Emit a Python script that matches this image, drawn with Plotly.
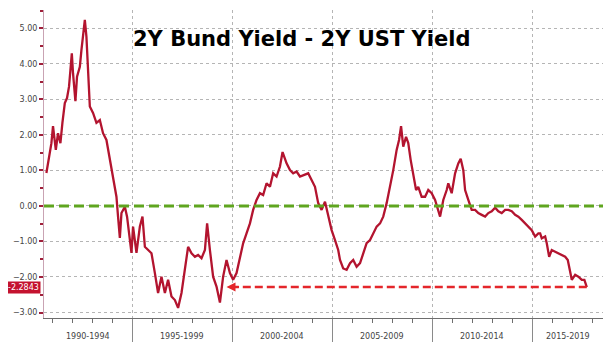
import plotly.graph_objects as go

# ---- data (decimal year, spread in %) ----
years = [
    1990.72, 1990.80, 1990.97, 1991.05, 1991.19, 1991.30, 1991.42, 1991.52, 1991.64, 1991.75,
    1991.85, 1991.92, 1991.99, 1992.05, 1992.17, 1992.25, 1992.39, 1992.47, 1992.55, 1992.64,
    1992.72, 1992.80, 1992.89, 1993.05, 1993.22, 1993.39, 1993.55, 1993.72, 1993.89, 1994.05,
    1994.22, 1994.30, 1994.39, 1994.47, 1994.64, 1994.75, 1994.89, 1994.97, 1995.05, 1995.22,
    1995.39, 1995.52, 1995.64, 1995.80, 1995.97, 1996.14, 1996.30, 1996.47, 1996.64, 1996.80,
    1996.97, 1997.14, 1997.30, 1997.47, 1997.64, 1997.80, 1997.97, 1998.14, 1998.30, 1998.47,
    1998.64, 1998.75, 1998.89, 1999.05, 1999.22, 1999.39, 1999.55, 1999.72, 1999.89, 2000.05,
    2000.22, 2000.39, 2000.55, 2000.72, 2000.89, 2001.05, 2001.22, 2001.39, 2001.55, 2001.72,
    2001.89, 2002.05, 2002.22, 2002.39, 2002.52, 2002.72, 2002.89, 2003.05, 2003.22, 2003.39,
    2003.55, 2003.80, 2003.97, 2004.14, 2004.30, 2004.47, 2004.64, 2004.80, 2004.97, 2005.14,
    2005.30, 2005.39, 2005.55, 2005.72, 2005.89, 2006.05, 2006.22, 2006.39, 2006.55, 2006.72,
    2006.89, 2007.05, 2007.22, 2007.39, 2007.55, 2007.72, 2007.89, 2008.05, 2008.22, 2008.34,
    2008.44, 2008.55, 2008.69, 2008.80, 2008.92, 2009.05, 2009.19, 2009.30, 2009.47, 2009.64,
    2009.80, 2009.97, 2010.14, 2010.39, 2010.55, 2010.72, 2010.80, 2010.97, 2011.14, 2011.30,
    2011.42, 2011.55, 2011.64, 2011.80, 2011.97, 2012.14, 2012.30, 2012.47, 2012.64, 2012.80,
    2012.97, 2013.14, 2013.30, 2013.47, 2013.64, 2013.80, 2013.97, 2014.14, 2014.30, 2014.47,
    2014.64, 2014.80, 2014.97, 2015.14, 2015.30, 2015.39, 2015.47, 2015.64, 2015.72, 2015.84,
    2015.97, 2016.14, 2016.30, 2016.47, 2016.64, 2016.77, 2016.89, 2016.97, 2017.14, 2017.30,
    2017.47, 2017.60, 2017.72,
]
spread = [
    0.93, 1.21, 1.77, 2.25, 1.58, 2.05, 1.77, 2.34, 2.90, 3.04,
    3.36, 3.83, 4.30, 3.74, 2.95, 3.64, 3.92, 4.39, 4.86, 5.24,
    4.77, 3.64, 2.80, 2.62, 2.34, 2.42, 2.05, 1.86, 1.30, 0.83,
    0.26, -0.30, -0.90, -0.20, -0.02, -0.30, -1.04, -1.32, -0.58, -1.32,
    -0.58, -0.30, -1.15, -1.24, -1.33, -1.89, -2.45, -1.99, -2.45, -2.08,
    -2.55, -2.65, -2.87, -2.45, -1.80, -1.15, -1.33, -1.43, -1.38, -1.47,
    -1.24, -0.49, -1.24, -1.99, -2.27, -2.72, -1.99, -1.52, -1.89, -2.08,
    -1.89, -1.43, -1.05, -0.77, -0.49, -0.11, 0.17, 0.36, 0.31, 0.64,
    0.54, 0.92, 0.83, 1.11, 1.52, 1.20, 1.01, 0.92, 0.97, 0.83,
    0.87, 0.92, 0.73, 0.54, 0.08, -0.11, 0.12, -0.30, -0.68, -0.96,
    -1.24, -1.52, -1.76, -1.80, -1.61, -1.52, -1.71, -1.61, -1.33, -1.05,
    -0.96, -0.77, -0.58, -0.49, -0.30, 0.08, 0.54, 1.01, 1.58, 1.86,
    2.25, 1.67, 1.95, 1.77, 1.30, 0.83, 0.45, 0.54, 0.26, 0.26,
    0.45, 0.36, 0.17, -0.30, 0.17, 0.45, 0.64, 0.36, 0.92, 1.20,
    1.33, 1.01, 0.45, 0.17, -0.11, -0.11, -0.20, -0.25, -0.30, -0.20,
    -0.15, -0.05, -0.15, -0.20, -0.11, -0.11, -0.15, -0.25, -0.30, -0.39,
    -0.49, -0.58, -0.68, -0.86, -0.77, -0.77, -0.91, -0.86, -1.05, -1.43,
    -1.24, -1.29, -1.33, -1.38, -1.43, -1.52, -1.90, -2.08, -1.94, -1.99,
    -2.08, -2.08, -2.2843,
]
last_value = -2.2843
arrow_to_year = 1999.72

period_starts = [1990, 1995, 2000, 2005, 2010, 2015]
period_labels = ["1990-1994", "1995-1999", "2000-2004", "2005-2009", "2010-2014", "2015-2019"]
y_ticks = [-3, -2, -1, 0, 1, 2, 3, 4, 5]

x_min, x_max = 1990.6, 2018.53
y_min, y_max = -3.155, 5.52

fig = go.Figure()
fig.add_trace(go.Scatter(x=years, y=spread, mode="lines",
                         line=dict(color="#b3142f", width=2.3), hoverinfo="skip"))

# zero line (green dashed)
fig.add_shape(type="line", xref="paper", x0=0, x1=1, yref="y", y0=0, y1=0,
              line=dict(color="#5fa51f", width=3, dash="10px,5px"))
# red dashed arrow from latest value back to the previous low
fig.add_shape(type="line", xref="x", x0=years[-1], x1=arrow_to_year + 0.15,
              yref="y", y0=last_value, y1=last_value,
              line=dict(color="#e4262b", width=2.5, dash="8px,4px"))
fig.add_annotation(x=arrow_to_year, y=last_value, ax=14, ay=0, axref="pixel", ayref="pixel",
                   showarrow=True, arrowhead=2, arrowsize=0.9, arrowwidth=2,
                   arrowcolor="#e4262b", text="")

# title
fig.add_annotation(text="<b>2Y Bund Yield - 2Y UST Yield</b>", xref="paper", yref="paper",
                   x=0.4606, y=0.905, xanchor="center", yanchor="middle", showarrow=False,
                   font=dict(family="DejaVu Sans", size=21, color="#000000"))

# period labels centred on the visible part of each 5-year bin
for s, lab in zip(period_starts, period_labels):
    c = (max(s, x_min) + min(s + 5, x_max)) / 2
    fig.add_annotation(text=lab, x=c, xref="x", y=0, yref="paper", yanchor="middle",
                       yshift=-18, showarrow=False,
                       font=dict(family="DejaVu Sans", size=8, color="#444444"))

# last value tag
fig.add_annotation(text="-2.2843", xref="paper", x=0, xanchor="right", xshift=-3,
                   yref="y", y=last_value, yanchor="middle", showarrow=False,
                   bgcolor="#c4122f", borderpad=1,
                   font=dict(family="DejaVu Sans", size=8, color="#ffffff"))

# the page body adds an 8px offset; the figure is sized so the plot area lands
# where the reference has it
fig.update_layout(
    width=604, height=355,
    margin=dict(l=36, r=9, t=2, b=45, autoexpand=False),
    paper_bgcolor="white", plot_bgcolor="white",
    showlegend=False,
    xaxis=dict(range=[x_min, x_max], tickmode="array", tickvals=period_starts[1:],
               showticklabels=False, ticks="outside", ticklen=23, tickcolor="#8a8a8a",
               showgrid=True, gridcolor="#b5b5b5", griddash="dot", gridwidth=1,
               showline=True, linecolor="#6e6e6e", linewidth=1, zeroline=False,
               automargin=False,
               minor=dict(tickmode="linear", tick0=1990, dtick=1, ticks="outside",
                          ticklen=4, tickcolor="#6e6e6e", showgrid=False)),
    yaxis=dict(range=[y_min, y_max], tickmode="array", tickvals=y_ticks, tickformat=".2f",
               ticks="outside", ticklen=4, tickcolor="#a0203a", tickwidth=1.5,
               tickfont=dict(family="DejaVu Sans", size=8, color="#444444"),
               showgrid=True, gridcolor="#b5b5b5", griddash="dot", gridwidth=1,
               showline=True, linecolor="#c9a3b3", linewidth=1, zeroline=False,
               automargin=False,
               minor=dict(tickmode="linear", tick0=0, dtick=0.5, ticks="outside",
                          ticklen=3, tickcolor="#a0203a", showgrid=False)),
)

fig.write_html("out.html")
